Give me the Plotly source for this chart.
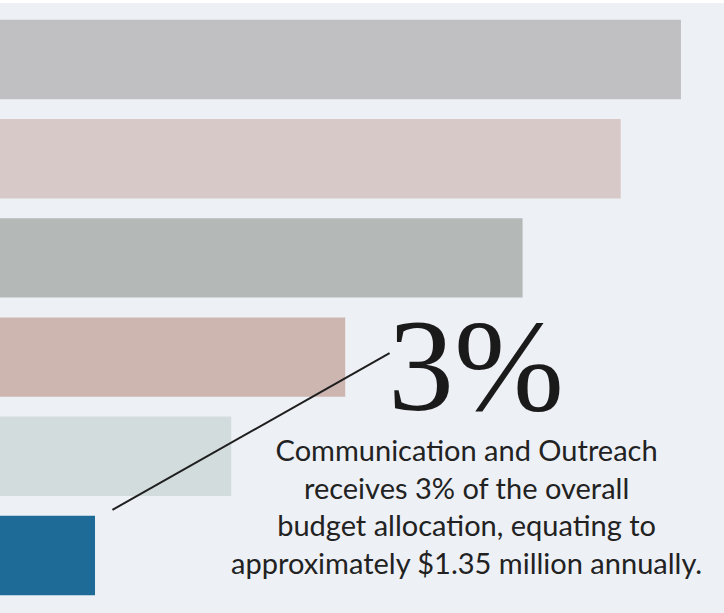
import plotly.graph_objects as go

categories = ["Program Services", "Personnel", "Operations", "Research and Evaluation",
              "Capacity Building", "Communication and Outreach"]
shares = [21.5, 19.6, 16.5, 10.9, 7.3, 3.0]
colors = ["#C0C0C2", "#D8C9C9", "#B4B8B6", "#CDB6B0", "#D3DCDD", "#1D6B96"]

highlight_pct = "3%"
highlight_text = ("Communication and Outreach<br>receives 3% of the overall<br>"
                  "budget allocation, equating to<br>approximately $1.35 million annually.")

fig = go.Figure(go.Bar(
    x=shares, y=categories, orientation="h",
    marker=dict(color=colors, line=dict(width=0)),
    width=0.8, hoverinfo="skip",
))

hi = len(categories) - 1
fig.add_shape(type="line", xref="x", yref="y",
              x0=shares[hi] + 0.55, y0=hi - 0.46,
              x1=shares[hi] + 9.3, y1=hi - 2.04,
              line=dict(color="#1E1E1E", width=2))

fig.add_annotation(x=0.658, y=0.405, xref="paper", yref="paper",
                   text=highlight_pct, showarrow=False,
                   font=dict(family="Liberation Serif", size=132, color="#1A1A1A"),
                   xanchor="center", yanchor="middle")
fig.add_annotation(x=0.645, y=0.176, xref="paper", yref="paper",
                   text=highlight_text, showarrow=False, align="center",
                   font=dict(family="Lato", size=29, color="#222222"),
                   xanchor="center", yanchor="middle")

fig.update_layout(
    width=724, height=613,
    margin=dict(l=0, r=0, t=3, b=0, pad=0),
    paper_bgcolor="#FFFFFF", plot_bgcolor="#EDF0F5",
    showlegend=False,
    xaxis=dict(range=[0, 22.86], visible=False, showgrid=False, zeroline=False),
    yaxis=dict(range=[5.58, -0.57], visible=False, showgrid=False,
               categoryorder="array", categoryarray=categories),
)

fig.write_html("out.html", config={"displayModeBar": False},
               post_script="document.body.style.margin='0';")
